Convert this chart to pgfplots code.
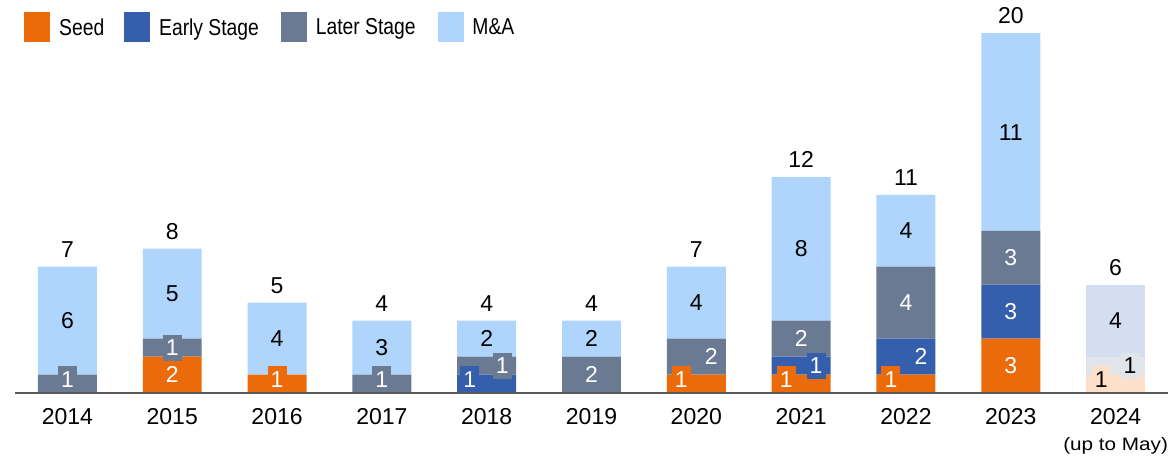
\documentclass[border=0pt]{standalone}
\usepackage{pgfplots}
\pgfplotsset{compat=1.18}
\usepackage{graphicx}
\usepackage{fontspec}
\setmainfont{Liberation Sans}

\definecolor{cSeed}{HTML}{EB6A0A}
\definecolor{cEarly}{HTML}{355EAD}
\definecolor{cLater}{HTML}{6B7A93}
\definecolor{cMA}{HTML}{AFD5FD}
\definecolor{cSeedL}{HTML}{FDE0CA}
\definecolor{cLaterL}{HTML}{E1E4E9}
\definecolor{cMAL}{HTML}{D3DFF0}
\definecolor{cAxis}{HTML}{595959}

\newcommand{\lblfont}{\fontsize{11.5}{13}\selectfont}
\newcommand{\segbox}[3]{{\setlength{\fboxsep}{0pt}\colorbox{#1}{\makebox[9.5pt]{\rule[-2.38pt]{0pt}{13pt}\textcolor{#2}{#3}}}}}

\pgfplotsset{
  common/.style={
    scale only axis,
    width=576.5pt, height=196.25pt,
    xmin=-0.5, xmax=10.5, ymin=0, ymax=21.84,
    clip=false,
  },
  seg/.style={fill=#1, draw=none},
  lbl/.style 2 args={draw=none, mark=none, point meta=explicit symbolic,
    nodes near coords={\segbox{#1}{#2}{\pgfplotspointmeta}},
    nodes near coords style={anchor=center, inner sep=0pt, font=\lblfont}},
}

\begin{document}
\begin{tikzpicture}
\begin{axis}[
  common,
  ybar stacked, bar width=0.5625,
  axis y line=none,
  axis x line*=bottom,
  x axis line style={draw=cAxis, line width=1pt},
  axis on top,
  xtick={0,1,2,3,4,5,6,7,8,9,10},
  xticklabels={2014,2015,2016,2017,2018,2019,2020,2021,2022,2023,{2024\\{\fontsize{9}{10}\selectfont\scalebox{1.15}[1]{(up to May)}}}},
  major tick length=0pt,
  xticklabel style={font=\lblfont, align=center, anchor=north, inner sep=0pt, yshift=-8pt},
  legend columns=4,
  legend style={at={(rel axis cs:0,1)}, anchor=north west, xshift=4.5pt, yshift=-5.75pt,
    draw=none, fill=none, inner sep=0pt, font=\lblfont,
    nodes={inner sep=0pt},
    /tikz/every odd column/.append style={column sep=4.5pt},
    /tikz/column 2/.append style={column sep=10pt},
    /tikz/column 4/.append style={column sep=11pt},
    /tikz/column 6/.append style={column sep=11pt}},
]
\addlegendimage{legend image code/.code={\fill[cSeed] (0pt,-6.45pt) rectangle (12.5pt,8.05pt);}}
\addlegendentry{\scalebox{0.84}[1]{Seed}}
\addlegendimage{legend image code/.code={\fill[cEarly] (0pt,-6.45pt) rectangle (12.5pt,8.05pt);}}
\addlegendentry{\scalebox{0.84}[1]{Early Stage}}
\addlegendimage{legend image code/.code={\fill[cLater] (0pt,-6.45pt) rectangle (12.5pt,8.05pt);}}
\addlegendentry{\scalebox{0.84}[1]{Later Stage}}
\addlegendimage{legend image code/.code={\fill[cMA] (0pt,-6.45pt) rectangle (12.5pt,8.05pt);}}
\addlegendentry{\scalebox{0.84}[1]{M\&A}}

% Seed
\addplot[seg=cSeed, forget plot] coordinates {(0,0) (1,2) (2,1) (3,0) (4,0) (5,0) (6,1) (7,1) (8,1) (9,3) (10,0)};
% Seed (2024, partial year)
\addplot[seg=cSeedL, forget plot] coordinates {(0,0) (1,0) (2,0) (3,0) (4,0) (5,0) (6,0) (7,0) (8,0) (9,0) (10,1)};
% Early Stage
\addplot[seg=cEarly, forget plot] coordinates {(0,0) (1,0) (2,0) (3,0) (4,1) (5,0) (6,0) (7,1) (8,2) (9,3) (10,0)};
% Later Stage
\addplot[seg=cLater, forget plot] coordinates {(0,1) (1,1) (2,0) (3,1) (4,1) (5,2) (6,2) (7,2) (8,4) (9,3) (10,0)};
% Later Stage (2024)
\addplot[seg=cLaterL, forget plot] coordinates {(0,0) (1,0) (2,0) (3,0) (4,0) (5,0) (6,0) (7,0) (8,0) (9,0) (10,1)};
% M&A
\addplot[seg=cMA, forget plot] coordinates {(0,6) (1,5) (2,4) (3,3) (4,2) (5,2) (6,4) (7,8) (8,4) (9,11) (10,0)};
% M&A (2024)
\addplot[seg=cMAL, forget plot] coordinates {(0,0) (1,0) (2,0) (3,0) (4,0) (5,0) (6,0) (7,0) (8,0) (9,0) (10,4)};
\coordinate (bl) at (rel axis cs:0,0);
\coordinate (tr) at (rel axis cs:1,1);
\end{axis}

% value labels, placed at segment centres (x nudged as in the original)
\begin{axis}[common, hide axis]
\addplot[lbl={cSeed}{white}] coordinates {(1,1)[2] (2,0.75)[1] (5.857,0.75)[1] (6.857,0.75)[1] (7.857,0.75)[1] (9,1.5)[3]};
\addplot[lbl={cSeedL}{black}] coordinates {(9.862,0.75)[1]};
\addplot[lbl={cEarly}{white}] coordinates {(3.838,0.75)[1] (7.143,1.5)[1] (8.143,2)[2] (9,4.5)[3]};
\addplot[lbl={cLater}{white}] coordinates {(0,0.75)[1] (1,2.5)[1] (3,0.75)[1] (4.148,1.5)[1] (5,1)[2] (6.143,2)[2] (7,3)[2] (8,5)[4] (9,7.5)[3]};
\addplot[lbl={cLaterL}{black}] coordinates {(10.138,1.5)[1]};
\addplot[lbl={cMA}{black}] coordinates {(0,4)[6] (1,5.5)[5] (2,3)[4] (3,2.5)[3] (4,3)[2] (5,3)[2] (6,5)[4] (7,8)[8] (8,9)[4] (9,14.5)[11]};
\addplot[lbl={cMAL}{black}] coordinates {(10,4)[4]};
% totals
\addplot[draw=none, mark=none, point meta=explicit symbolic, nodes near coords,
  nodes near coords style={anchor=base, inner sep=0pt, yshift=4.75pt, font=\lblfont}]
  coordinates {(0,7)[7] (1,8)[8] (2,5)[5] (3,4)[4] (4,4)[4] (5,4)[4] (6,7)[7] (7,12)[12] (8,11)[11] (9,20)[20] (10,6)[6]};
\end{axis}
\pgfresetboundingbox
\path ([xshift=-7.5pt,yshift=-31.25pt]bl) rectangle ([xshift=3.5pt]tr);
\end{tikzpicture}
\end{document}
